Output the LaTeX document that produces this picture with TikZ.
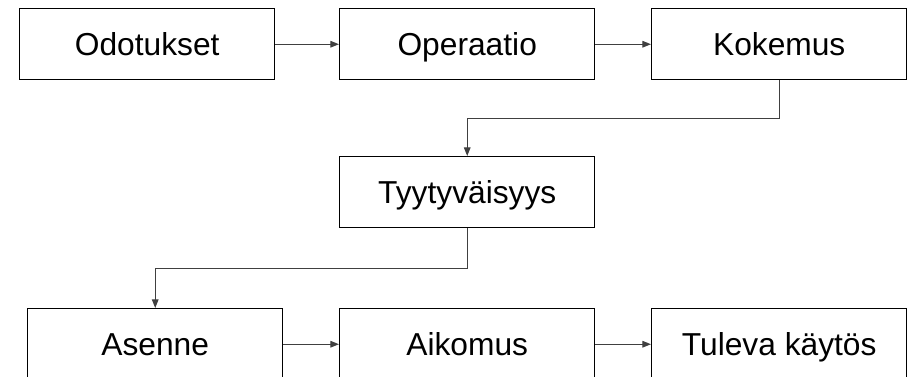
\documentclass[tikz,border=0pt]{standalone}
\usepackage{fontspec}
\setmainfont{Liberation Sans}
\usetikzlibrary{arrows.meta}
\begin{document}
\begin{tikzpicture}[x=0.75pt,y=-0.75pt,
  stepbox/.style={draw=black,line width=1.1pt,minimum width=191.25pt,minimum height=53.25pt,
    inner sep=0pt,text height=16.8pt,text depth=0pt,
    font=\fontsize{23.8}{28}\selectfont,anchor=north west},
  link/.style={draw=black!75,line width=0.8pt,-{Triangle[length=6.5pt,width=5pt]}}]
\useasboundingbox (0,0) rectangle (908,376);
\clip (0,0) rectangle (908,376);
% first row
\node[stepbox] (odot) at (19,8) {Odotukset};
\node[stepbox] (oper) at (339,8) {Operaatio};
\node[stepbox] (koke) at (651,8) {Kokemus};
% middle
\node[stepbox] (tyyt) at (339,156) {Tyytyväisyys};
% last row
\node[stepbox] (asen) at (27,308) {Asenne};
\node[stepbox] (aiko) at (339,308) {Aikomus};
\node[stepbox] (tule) at (651,308) {Tuleva käytös};
% connectors
\draw[link] (odot) -- (oper);
\draw[link] (oper) -- (koke);
\draw[link] (koke.south) -- ++(0,38) -| (tyyt.north);
\draw[link] (tyyt.south) -- ++(0,40) -| (asen.north);
\draw[link] (asen.east) -- (aiko.west);
\draw[link] (aiko.east) -- (tule.west);
\end{tikzpicture}
\end{document}
